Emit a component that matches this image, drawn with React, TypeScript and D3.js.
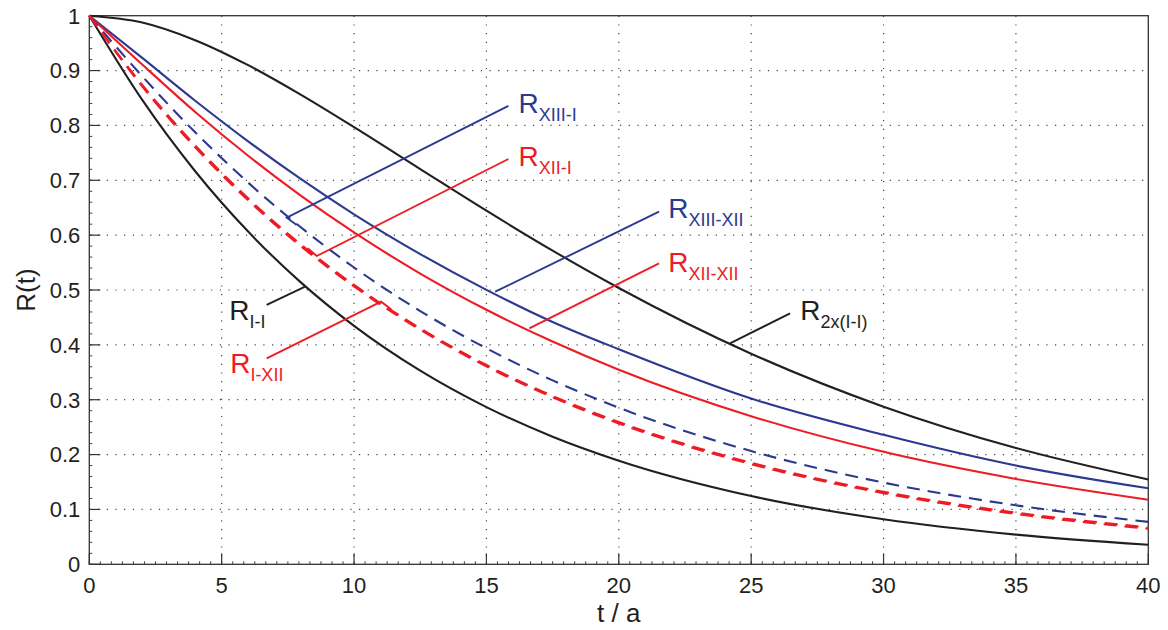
import React, { useEffect, useRef } from "react";
import * as d3 from "d3";

// time axis samples (years)
const tValues = [0, 2, 4, 6, 8, 10, 12.5, 15, 17.5, 20, 25, 30, 35, 40];

// reliability curves
const rII = [1, 0.8465, 0.7165, 0.6065, 0.5134, 0.4346, 0.3529, 0.2865, 0.2326, 0.1889, 0.1245, 0.0821, 0.0541, 0.0357];
const r2xII = [1, 0.9876, 0.9554, 0.9098, 0.8557, 0.7968, 0.7205, 0.6446, 0.5718, 0.5037, 0.3839, 0.2873, 0.212, 0.1546];
const rXIIIXII = [1, 0.923, 0.845, 0.771, 0.702, 0.638, 0.5655, 0.5003, 0.4417, 0.392, 0.3022, 0.236, 0.18, 0.1385];
const rXIIXII = [1, 0.911, 0.8246, 0.7448, 0.6717, 0.605, 0.53, 0.464, 0.406, 0.3546, 0.27, 0.205, 0.1556, 0.1178];
const rXIIII = [1, 0.8896, 0.7874, 0.6957, 0.614, 0.541, 0.4616, 0.3937, 0.3353, 0.2854, 0.2064, 0.149, 0.1075, 0.0773];
const rXIII = [1, 0.8737, 0.7634, 0.667, 0.5827, 0.5092, 0.4301, 0.3632, 0.3068, 0.2592, 0.185, 0.132, 0.0942, 0.0672];
const rIXII = [1, 0.871, 0.76, 0.6635, 0.5795, 0.5065, 0.4275, 0.3607, 0.3043, 0.2567, 0.1825, 0.1296, 0.0918, 0.0648];

// tick labels
const xTicks = [0, 5, 10, 15, 20, 25, 30, 35, 40];
const yTicks = [0, 0.1, 0.2, 0.3, 0.4, 0.5, 0.6, 0.7, 0.8, 0.9, 1];

const BLUE = "#2b3990";
const RED = "#ed1c24";
const BLACK = "#231f20";

const series = [
  { values: r2xII, color: BLACK, dash: null },
  { values: rII, color: BLACK, dash: null },
  { values: rXIIIXII, color: BLUE, dash: null },
  { values: rXIIXII, color: RED, dash: null },
  { values: rXIIII, color: BLUE, dash: "13,8" },
  { values: rXIII, color: RED, dash: "13,8" },
  { values: rIXII, color: RED, dash: "13,8" },
];

// leader lines + labels, in data units
const labels = [
  { sub: "XIII-I", color: BLUE, at: [16.21, 0.822], leader: [[15.83, 0.8357], [7.457, 0.6318], [7.835, 0.6185]] },
  { sub: "XII-I", color: RED, at: [16.21, 0.726], leader: [[15.83, 0.7388], [8.59, 0.562], [8.25, 0.576]] },
  { sub: "XIII-XII", color: BLUE, at: [21.87, 0.631], leader: [[21.52, 0.6427], [15.33, 0.4969]] },
  { sub: "XII-XII", color: RED, at: [21.87, 0.533], leader: [[21.52, 0.5487], [16.62, 0.4302]] },
  { sub: "2x(I-I)", color: BLACK, at: [26.85, 0.4453], leader: [[26.47, 0.4575], [24.2, 0.4028]] },
  { sub: "I-I", color: BLACK, at: [5.29, 0.4453], leader: [[6.7, 0.4727], [8.15, 0.506]] },
  { sub: "I-XII", color: RED, at: [5.32, 0.348], leader: [[6.7, 0.3755], [11.02, 0.4787], [11.4, 0.4648]] },
];

const App = () => {
  const chartRef = useRef<SVGSVGElement | null>(null);

  useEffect(() => {
    const svg = d3.select(chartRef.current);
    svg.selectAll("*").remove();

    const width = 1168;
    const height = 630;
    const margin = { top: 15.7, right: 19.7, bottom: 65.7, left: 89.3 };
    const innerW = width - margin.left - margin.right;
    const innerH = height - margin.top - margin.bottom;

    const font = "'Liberation Sans', Arial, Helvetica, sans-serif";

    const x = d3.scaleLinear().domain([0, 40]).range([0, innerW]);
    const y = d3.scaleLinear().domain([0, 1]).range([innerH, 0]);

    const g = svg.append("g").attr("transform", `translate(${margin.left},${margin.top})`);

    // dotted grid
    g.append("g")
      .selectAll("line")
      .data(xTicks.slice(1, -1))
      .enter()
      .append("line")
      .attr("x1", (d) => x(d))
      .attr("x2", (d) => x(d))
      .attr("y1", 0)
      .attr("y2", innerH)
      .attr("stroke", "#444")
      .attr("stroke-width", 1.2)
      .attr("stroke-dasharray", "1.2,7.5");

    g.append("g")
      .selectAll("line")
      .data(yTicks.slice(1, -1))
      .enter()
      .append("line")
      .attr("y1", (d) => y(d))
      .attr("y2", (d) => y(d))
      .attr("x1", 0)
      .attr("x2", innerW)
      .attr("stroke", "#444")
      .attr("stroke-width", 1.2)
      .attr("stroke-dasharray", "1.2,7.5");

    // minor ticks (inward)
    const xMinor = d3.range(0, 40.001, 5 / 12);
    g.append("g")
      .selectAll("line")
      .data(xMinor)
      .enter()
      .append("line")
      .attr("x1", (d) => x(d))
      .attr("x2", (d) => x(d))
      .attr("y1", innerH)
      .attr("y2", innerH - 3)
      .attr("stroke", "#444")
      .attr("stroke-width", 1);

    const yMinor = d3.range(0, 1.0001, 0.02);
    g.append("g")
      .selectAll("line")
      .data(yMinor)
      .enter()
      .append("line")
      .attr("y1", (d) => y(d))
      .attr("y2", (d) => y(d))
      .attr("x1", 0)
      .attr("x2", 3)
      .attr("stroke", "#444")
      .attr("stroke-width", 1);

    // major ticks (inward)
    g.append("g")
      .selectAll("line")
      .data(xTicks)
      .enter()
      .append("line")
      .attr("x1", (d) => x(d))
      .attr("x2", (d) => x(d))
      .attr("y1", innerH)
      .attr("y2", innerH - 11)
      .attr("stroke", "#333")
      .attr("stroke-width", 1.2);

    g.append("g")
      .selectAll("line")
      .data(yTicks)
      .enter()
      .append("line")
      .attr("y1", (d) => y(d))
      .attr("y2", (d) => y(d))
      .attr("x1", 0)
      .attr("x2", 11)
      .attr("stroke", "#333")
      .attr("stroke-width", 1.2);

    // box
    g.append("rect")
      .attr("x", 0)
      .attr("y", 0)
      .attr("width", innerW)
      .attr("height", innerH)
      .attr("fill", "none")
      .attr("stroke", "#333")
      .attr("stroke-width", 1.3);

    // tick labels
    g.append("g")
      .selectAll("text")
      .data(xTicks)
      .enter()
      .append("text")
      .attr("x", (d) => x(d))
      .attr("y", innerH + 29)
      .attr("text-anchor", "middle")
      .style("font-family", font)
      .style("font-size", "22px")
      .attr("fill", BLACK)
      .text((d) => d3.format("~g")(d));

    g.append("g")
      .selectAll("text")
      .data(yTicks)
      .enter()
      .append("text")
      .attr("x", -9)
      .attr("y", (d) => y(d))
      .attr("dy", "0.36em")
      .attr("text-anchor", "end")
      .style("font-family", font)
      .style("font-size", "22px")
      .attr("fill", BLACK)
      .text((d) => d3.format("~g")(d));

    // axis titles
    g.append("text")
      .attr("x", innerW / 2)
      .attr("y", innerH + 58)
      .attr("text-anchor", "middle")
      .style("font-family", font)
      .style("font-size", "26px")
      .attr("fill", BLACK)
      .text("t / a");

    g.append("text")
      .attr("transform", `translate(${-54},${innerH / 2}) rotate(-90)`)
      .attr("text-anchor", "middle")
      .style("font-family", font)
      .style("font-size", "26px")
      .attr("fill", BLACK)
      .text("R(t)");

    // curves
    const line = d3
      .line<number>()
      .x((d, i) => x(tValues[i]))
      .y((d) => y(d))
      .curve(d3.curveMonotoneX);

    series.forEach((s) => {
      g.append("path")
        .datum(s.values)
        .attr("d", line)
        .attr("fill", "none")
        .attr("stroke", s.color)
        .attr("stroke-width", 2.1)
        .attr("stroke-dasharray", s.dash);
    });

    // leaders and labels
    const leader = d3
      .line<number[]>()
      .x((d) => x(d[0]))
      .y((d) => y(d[1]));

    labels.forEach((l) => {
      g.append("path")
        .datum(l.leader)
        .attr("d", leader)
        .attr("fill", "none")
        .attr("stroke", l.color)
        .attr("stroke-width", 1.9);

      const t = g
        .append("text")
        .attr("x", x(l.at[0]))
        .attr("y", y(l.at[1]))
        .style("font-family", font)
        .attr("fill", l.color);
      t.append("tspan").style("font-size", "28px").text("R");
      t.append("tspan").attr("dy", 8).style("font-size", "18px").text(l.sub);
    });
  }, []);

  return (
    <svg
      ref={chartRef}
      width={1168}
      height={630}
      style={{ position: "absolute", left: 0, top: 0, background: "#fff" }}
    />
  );
};

export default App;
